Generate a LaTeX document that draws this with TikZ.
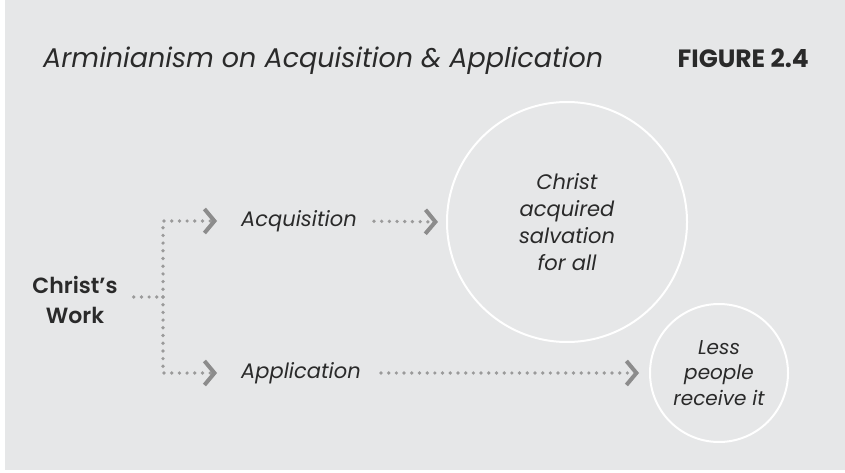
\documentclass[tikz,border=0pt]{standalone}
\usepackage{fontspec}
\setmainfont{Poppins}
\newfontfamily\semib{Poppins SemiBold}
\usetikzlibrary{arrows.meta}
\definecolor{bgc}{HTML}{E6E7E8}
\definecolor{txt}{HTML}{2A2A2A}
\definecolor{dotc}{HTML}{9A9A9A}
\definecolor{chevc}{HTML}{8C8C8C}
\tikzset{
  lbl/.style={inner sep=0pt, text=txt, font=\fontsize{21}{27}\selectfont\itshape},
  bold/.style={inner sep=0pt, text=txt, font=\fontsize{22}{30}\selectfont\semib, align=center},
  ring/.style={circle, draw=white, line width=2pt, inner sep=0pt, text=txt, align=center},
  dotline/.style={draw=dotc, line width=3.7pt, line cap=round, dash pattern=on 0pt off 7.7pt,
     -{Straight Barb[length=10pt, width=24pt, line width=4pt, color=chevc]}},
  plaindot/.style={draw=dotc, line width=3.7pt, line cap=round, dash pattern=on 0pt off 7.7pt}
}
\begin{document}
\begin{tikzpicture}[x=1pt, y=-1pt]
\useasboundingbox (0,0) rectangle (845,473);
\fill[white] (0,0) rectangle (845,473);
\fill[bgc] (5,0) rectangle (845,470);
% title
\node[anchor=base west, inner sep=0pt, text=txt, font=\fontsize{27}{30}\selectfont\itshape] (title) at (43,68) {Arminianism on Acquisition \& Application};
\node[anchor=base east, inner sep=0pt, text=txt, font=\fontsize{25}{30}\selectfont\bfseries] (fig) at (809,68) {FIGURE 2.4};
% nodes
\node[bold] (cw) at (75,300) {Christ’s\\Work};
\node[lbl] (acq) at (299,221) {Acquisition};
\node[lbl] (app) at (301,373) {Application};
\node[ring, minimum size=240pt, font=\fontsize{21}{27}\selectfont\itshape] (big) at (567,222) {Christ\\acquired\\salvation\\for all};
\node[ring, minimum size=138pt, font=\fontsize{20}{25.5}\selectfont\itshape] (small) at (719,373) {Less\\people\\receive it};
\coordinate (j) at (163,297);
% connectors
\draw[plaindot] (cw.east |- j) ++(16pt,0) -- (j);
\draw[dotline, shorten >=1pt] (j) |- ([xshift=-23pt]acq.west);
\draw[dotline, shorten >=1pt] (j) |- ([xshift=-23pt]app.west);
\draw[dotline, shorten <=17pt, shorten >=8pt] (acq.east) -- (big.west);
\draw[dotline, shorten <=20pt, shorten >=10pt] (app.east) -- (small.west);
\end{tikzpicture}
\end{document}
